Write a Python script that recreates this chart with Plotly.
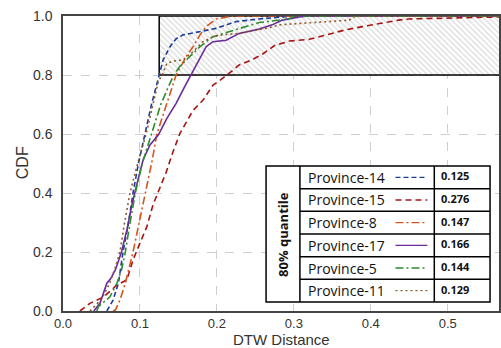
import plotly.graph_objects as go

# ---------------- data ----------------
names = ["Province-14", "Province-15", "Province-8", "Province-17", "Province-5", "Province-11"]
quantile80 = [0.125, 0.276, 0.147, 0.166, 0.144, 0.129]

p14_x = [0.057, 0.065, 0.072, 0.078, 0.085, 0.091, 0.098, 0.106, 0.115, 0.125, 0.130, 0.139, 0.147,
         0.156, 0.178, 0.199, 0.212, 0.225, 0.255, 0.280, 0.300, 0.57]
p14_y = [0.0, 0.037, 0.094, 0.2, 0.297, 0.4, 0.5, 0.6, 0.7, 0.8, 0.85, 0.896, 0.923,
         0.936, 0.947, 0.958, 0.97, 0.981, 0.99, 0.996, 1.0, 1.0]

p15_x = [0.022, 0.035, 0.053, 0.070, 0.083, 0.091, 0.100, 0.109, 0.117, 0.126, 0.134, 0.143, 0.152,
         0.169, 0.182, 0.195, 0.203, 0.216, 0.229, 0.245, 0.260, 0.275, 0.294, 0.320, 0.342, 0.367,
         0.389, 0.410, 0.436, 0.449, 0.514, 0.57]
p15_y = [0.0, 0.026, 0.048, 0.088, 0.105, 0.173, 0.23, 0.286, 0.36, 0.42, 0.47, 0.54, 0.602,
         0.68, 0.715, 0.766, 0.78, 0.806, 0.834, 0.851, 0.872, 0.9, 0.915, 0.921, 0.936, 0.953,
         0.964, 0.975, 0.986, 0.99, 0.993, 0.997]

p8_x = [0.065, 0.068, 0.074, 0.081, 0.091, 0.098, 0.104, 0.110, 0.116, 0.122, 0.128, 0.134, 0.140,
        0.147, 0.160, 0.169, 0.178, 0.186, 0.199, 0.221, 0.57]
p8_y = [0.0, 0.003, 0.037, 0.094, 0.2, 0.286, 0.354, 0.43, 0.512, 0.6, 0.65, 0.7, 0.75,
        0.8, 0.862, 0.896, 0.936, 0.964, 0.99, 1.0, 1.0]

p17_x = [0.040, 0.048, 0.057, 0.062, 0.068, 0.076, 0.083, 0.089, 0.096, 0.104, 0.113, 0.124, 0.135,
         0.147, 0.158, 0.166, 0.175, 0.186, 0.195, 0.212, 0.229, 0.255, 0.272, 0.285, 0.307, 0.320, 0.57]
p17_y = [0.0, 0.026, 0.094, 0.11, 0.139, 0.2, 0.275, 0.354, 0.43, 0.512, 0.563, 0.597, 0.653,
         0.704, 0.76, 0.8, 0.845, 0.896, 0.913, 0.918, 0.941, 0.956, 0.97, 0.986, 0.997, 1.0, 1.0]

p5_x = [0.044, 0.046, 0.061, 0.070, 0.076, 0.081, 0.087, 0.094, 0.103, 0.115, 0.127, 0.137, 0.144,
        0.152, 0.165, 0.178, 0.195, 0.225, 0.255, 0.294, 0.300, 0.57]
p5_y = [0.0, 0.015, 0.048, 0.094, 0.139, 0.2, 0.297, 0.4, 0.5, 0.6, 0.7, 0.76, 0.8,
        0.83, 0.862, 0.896, 0.93, 0.953, 0.978, 0.99, 1.0, 1.0]

p11_x = [0.035, 0.050, 0.060, 0.067, 0.074, 0.080, 0.087, 0.097, 0.108, 0.117, 0.124, 0.129, 0.135,
         0.145, 0.156, 0.169, 0.182, 0.195, 0.210, 0.229, 0.250, 0.268, 0.281, 0.310, 0.342, 0.372,
         0.380, 0.57]
p11_y = [0.0, 0.04, 0.09, 0.14, 0.2, 0.3, 0.4, 0.5, 0.6, 0.7, 0.78, 0.8, 0.84,
         0.848, 0.851, 0.879, 0.913, 0.93, 0.937, 0.941, 0.952, 0.96, 0.97, 0.975, 0.981, 0.986,
         1.0, 1.0]

xs = [p14_x, p15_x, p8_x, p17_x, p5_x, p11_x]
ys = [p14_y, p15_y, p8_y, p17_y, p5_y, p11_y]

x_ticks = [0.0, 0.1, 0.2, 0.3, 0.4, 0.5]
y_ticks = [0.0, 0.2, 0.4, 0.6, 0.8, 1.0]
x_max = 0.5666
x_title = "DTW Distance"
y_title = "CDF"

# ---------------- styles ----------------
colors = ["#1c3c9c", "#a81414", "#d4561c", "#6a2a98", "#2e8b2e", "#8b5a2b"]
dashes = ["5px,3px", "6px,4px", "8px,3px,2px,3px", "solid", "8px,3px,2px,3px", "2px,3px"]

fig = go.Figure()

# hatched 80% region
q_min = min(quantile80)
fig.add_trace(go.Scatter(
    x=[q_min, x_max + 0.01, x_max + 0.01, q_min, q_min],
    y=[0.8, 0.8, 1.0, 1.0, 0.8],
    mode="lines", fill="toself",
    fillcolor="white",
    fillpattern=dict(shape="\\", fgcolor="#b4b4b4", bgcolor="white", size=4, solidity=0.3),
    line=dict(color="black", width=1.5),
    hoverinfo="skip", showlegend=False, cliponaxis=True))

for n, x, y, c, d in zip(names, xs, ys, colors, dashes):
    fig.add_trace(go.Scatter(x=x, y=y, mode="lines", name=n,
                             line=dict(color=c, width=1.6, dash=d), showlegend=False))

# ---------------- table legend (paper coords from pixel layout) ----------------
L, T, W, H = 63, 16, 438, 295
def px(v):
    return (v - L) / W
def py(v):
    return (T + H - v) / H

tl, tr, tt, tb = 267, 492, 166, 302
c1, c2 = 301, 436
shapes = []
shapes.append(dict(type="rect", xref="paper", yref="paper", x0=px(tl), x1=px(tr), y0=py(tb), y1=py(tt),
                   line=dict(color="black", width=1.5), fillcolor="white", layer="above"))
for cx in (c1, c2):
    shapes.append(dict(type="line", xref="paper", yref="paper", x0=px(cx), x1=px(cx), y0=py(tb), y1=py(tt),
                       line=dict(color="black", width=1.5), layer="above"))
rh = (tb - tt) / len(names)
for k in range(1, len(names)):
    yy = tt + k * rh
    shapes.append(dict(type="line", xref="paper", yref="paper", x0=px(c1), x1=px(tr), y0=py(yy), y1=py(yy),
                       line=dict(color="black", width=1.5), layer="above"))

annotations = []
for k, (n, q, c, d) in enumerate(zip(names, quantile80, colors, dashes)):
    yc = tt + (k + 0.5) * rh
    annotations.append(dict(xref="paper", yref="paper", x=px(307), y=py(yc), text=n, showarrow=False,
                            xanchor="left", yanchor="middle",
                            font=dict(family="Open Sans", size=14, color="#111")))
    shapes.append(dict(type="line", xref="paper", yref="paper", x0=px(397), x1=px(429), y0=py(yc), y1=py(yc),
                       line=dict(color=c, width=1.4, dash=d), layer="above"))
    annotations.append(dict(xref="paper", yref="paper", x=px(441), y=py(yc - 1.5), text="<b>%.3f</b>" % q,
                            showarrow=False, xanchor="left", yanchor="middle",
                            font=dict(family="Open Sans", size=11, color="#111")))
annotations.append(dict(xref="paper", yref="paper", x=px((tl + c1) / 2), y=py((tt + tb) / 2),
                        text="<b>80% quantile</b>", textangle=-90, showarrow=False,
                        xanchor="center", yanchor="middle",
                        font=dict(family="Open Sans", size=13, color="#111")))
# axis titles
annotations.append(dict(xref="paper", yref="paper", x=px(283), y=py(339), text=x_title, showarrow=False,
                        xanchor="center", yanchor="middle", borderpad=0,
                        font=dict(family="Liberation Sans", size=15, color="#333")))
annotations.append(dict(xref="paper", yref="paper", x=px(22), y=py(163), text=y_title, showarrow=False,
                        textangle=-90, xanchor="center", yanchor="middle",
                        font=dict(family="Liberation Sans", size=16, color="#333")))

fig.update_layout(
    width=501, height=348,
    margin=dict(l=L, r=0, t=T, b=348 - T - H),
    plot_bgcolor="white", paper_bgcolor="white",
    shapes=shapes, annotations=annotations,
    showlegend=False,
    font=dict(family="Liberation Sans", size=14, color="#333"),
)
fig.update_xaxes(range=[0, x_max], tickvals=x_ticks, ticktext=["%.1f" % v for v in x_ticks],
                 showgrid=True, gridcolor="#cfcfcf", griddash="dash", gridwidth=1,
                 showline=True, linecolor="#444", linewidth=1.5, mirror=True,
                 zeroline=False, ticks="", ticklabelstandoff=0,
                 tickfont=dict(size=13, color="#333"))
fig.update_yaxes(range=[0, 1.0], tickvals=y_ticks, ticktext=["%.1f" % v for v in y_ticks],
                 showgrid=True, gridcolor="#cfcfcf", griddash="dash", gridwidth=1,
                 showline=True, linecolor="#444", linewidth=1.5, mirror=True,
                 zeroline=False, ticks="", ticklabelstandoff=6,
                 tickfont=dict(size=14, color="#333"))

fig.write_html("out.html")
